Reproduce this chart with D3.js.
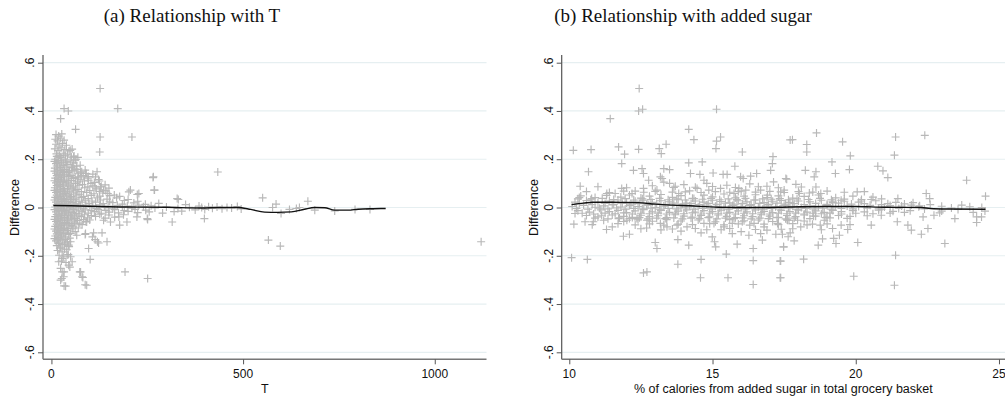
<!DOCTYPE html>
<html>
<head>
<meta charset="utf-8">
<script src="https://cdn.jsdelivr.net/npm/d3@7/dist/d3.min.js"></script>
<style>
  html, body { margin: 0; padding: 0; background: #ffffff; }
  svg { display: block; }
  .tick-label { font-family: Arial, "Liberation Sans", sans-serif; font-size: 12px; fill: #111; }
  .axis-title { font-family: Arial, "Liberation Sans", sans-serif; font-size: 12.5px; fill: #111; }
  .panel-title { font-family: "Liberation Serif", "DejaVu Serif", serif; font-size: 19px; fill: #111; }
</style>
</head>
<body>
<svg id="chart" width="1005" height="398"></svg>
<script>
// ---------- data ----------
const yTicks = [-0.6, -0.4, -0.2, 0, 0.2, 0.4, 0.6];
const yTickLabels = ["-.6", "-.4", "-.2", "0", ".2", ".4", ".6"];
const tTicks = [0, 500, 1000];
const tTickLabels = ["0", "500", "1000"];
const sugarTicks = [10, 15, 20, 25];
const sugarTickLabels = ["10", "15", "20", "25"];

// Panel (a): difference against T
const tOutliers = [
  [127,0.493],[33,0.41],[44,0.40],[173,0.41],[24,0.368],[63,0.324],[127,0.292],[210,0.292],[126,0.23],
  [265,0.124],[269,0.072],[206,0.072],[228,0.058],[328,0.037],[119,0.148],[123,0.116],[114,0.085],
  [136,0.072],[91,0.141],[97,0.113],[66,0.157],[79,0.148],[71,0.127],[49,0.237],[58,0.21],[62,0.196],
  [115,0.127],[128,0.085],[147,0.058],[202,0.065],[224,0.054],[266,0.127],[268,0.072],[331,0.033],[89,0.141],
  [33,-0.267],[27,-0.294],[33,-0.325],[74,-0.267],[82,-0.29],[88,-0.32],[192,-0.267],[251,-0.294],
  [28,-0.267],[32,-0.287],[24,-0.301],[37,-0.326],[76,-0.267],[80,-0.287],[92,-0.322],
  [19,-0.225],[28,-0.211],[41,-0.197],[50,-0.204],[54,-0.225],[45,-0.239],
  [101,-0.215],[97,-0.17],[110,-0.105],[132,-0.105],[114,-0.133],[123,-0.147],[145,-0.142],[107,-0.122],
  [120,-0.142],[89,-0.108],[50,-0.142],[45,-0.156],[66,-0.115],[88,-0.112],
  [178,-0.073],[197,-0.06],[223,-0.039],[251,-0.05],[315,-0.06],[136,-0.053],[154,-0.06],[92,-0.06],
  [176,-0.039],[188,-0.03],[250,-0.046],
  [375,-0.01],[350,0.012],[340,-0.015],[385,0.006],
  [392,0.0],[400,-0.008],[410,0.003],[420,-0.003],[432,0.002],[445,-0.005],[458,0.0],[470,-0.002],
  [485,0.004],[495,-0.006],[399,-0.046],[434,0.147],
  [551,0.04],[586,0.014],[577,0.0],[599,-0.025],[621,-0.008],[639,-0.004],[647,0.0],[669,0.026],
  [687,-0.011],[739,-0.014],[792,-0.008],[831,-0.008],[566,-0.135],[597,-0.16],[1121,-0.142]
];
const tCore = [
  [12,0.302],[19,0.296],[27,0.305],
  [10,0.283],[16,0.276],[23,0.287],[33,0.279],
  [12,0.262],[20,0.255],[29,0.266],[39,0.258],
  [9,0.243],[17,0.236],[25,0.247],[35,0.24],[46,0.234],[54,0.242],
  [13,0.222],[21,0.216],[31,0.225],[42,0.218],[59,0.213],[69,0.208],
  [10,0.2],[18,0.195],[27,0.205],[37,0.198],[49,0.192],[64,0.2],
  [12,0.182],[22,0.176],[32,0.185],[43,0.178],[55,0.172],[75,0.175],
  [9,0.163],[16,0.156],[25,0.165],[35,0.158],[47,0.152],[61,0.16],[88,0.155],
  [12,0.142],[20,0.136],[29,0.145],[40,0.138],[51,0.133],[69,0.14],[83,0.132],[108,0.138],
  [10,0.122],[18,0.116],[26,0.125],[34,0.118],[44,0.113],[57,0.12],[75,0.115],[95,0.122],[125,0.11],
  [12,0.102],[20,0.096],[28,0.105],[38,0.098],[49,0.093],[63,0.1],[81,0.095],[103,0.1],[140,0.094],
  [9,0.082],[16,0.076],[24,0.085],[32,0.078],[42,0.073],[54,0.08],[67,0.075],[87,0.082],[117,0.077],[150,0.08],
  [12,0.062],[20,0.056],[28,0.065],[36,0.058],[46,0.053],[58,0.06],[72,0.055],[92,0.062],[111,0.057],[134,0.06],[164,0.052],
  [10,0.042],[16,0.036],[24,0.045],[32,0.038],[40,0.033],[50,0.04],[62,0.035],[78,0.042],[96,0.037],[120,0.04],[145,0.035],[170,0.04],[200,0.033],
  [12,0.022],[20,0.016],[28,0.025],[36,0.018],[44,0.013],[54,0.02],[66,0.015],[80,0.022],[98,0.017],[115,0.022],[135,0.016],[160,0.02],[185,0.014],[215,0.019],[245,0.013],[280,0.017],
  [10,0.002],[16,-0.004],[24,0.005],[32,-0.002],[40,-0.007],[48,0.0],[58,-0.005],[70,0.002],[84,-0.003],[100,0.003],[118,-0.004],[138,0.001],[160,-0.005],[185,0.002],[210,-0.003],[240,0.003],[270,-0.002],[300,0.002],[330,-0.004],[360,0.001],
  [12,-0.018],[20,-0.024],[28,-0.015],[36,-0.022],[44,-0.027],[54,-0.02],[66,-0.025],[80,-0.018],[96,-0.023],[112,-0.017],[130,-0.024],[150,-0.019],[175,-0.022],[200,-0.016],[225,-0.021],[255,-0.018],[290,-0.023],[320,-0.017],
  [10,-0.038],[18,-0.044],[26,-0.035],[34,-0.042],[42,-0.047],[52,-0.04],[64,-0.045],[78,-0.038],[94,-0.043],[115,-0.037],[140,-0.044],[165,-0.04],
  [12,-0.058],[20,-0.064],[28,-0.055],[38,-0.062],[48,-0.067],[60,-0.06],[74,-0.065],[90,-0.058],
  [10,-0.078],[18,-0.084],[26,-0.075],[34,-0.082],[44,-0.087],[56,-0.08],[70,-0.085],
  [12,-0.098],[20,-0.104],[28,-0.095],[38,-0.102],[50,-0.107],[62,-0.1],
  [10,-0.118],[18,-0.124],[26,-0.115],[36,-0.122],[48,-0.127],
  [12,-0.138],[20,-0.144],[30,-0.135],[42,-0.142],
  [14,-0.158],[24,-0.164],[34,-0.155],[46,-0.162],
  [16,-0.178],[28,-0.184],[40,-0.175],
  [20,-0.198],[32,-0.204],[44,-0.195],
  [26,-0.222],[38,-0.228],
  [24,-0.252],[48,-0.247]
];
const tCoreFill = [
  [14,0.212],[24,0.207],[36,0.214],[52,0.209],
  [8,0.191],[16,0.186],[26,0.193],[40,0.188],[58,0.185],
  [14,0.172],[22,0.167],[30,0.174],[40,0.168],[52,0.165],[66,0.171],
  [8,0.151],[16,0.147],[24,0.153],[34,0.149],[44,0.145],[56,0.152],[76,0.146],
  [14,0.132],[22,0.127],[32,0.134],[46,0.128],[62,0.125],[78,0.131],[96,0.128],
  [8,0.111],[16,0.107],[24,0.113],[32,0.108],[40,0.105],[52,0.112],[68,0.106],[86,0.11],[112,0.104],
  [14,0.091],[22,0.087],[30,0.093],[44,0.088],[58,0.085],[72,0.092],[95,0.086],[108,0.09],[130,0.088],
  [8,0.071],[16,0.067],[24,0.073],[34,0.068],[48,0.065],[62,0.072],[78,0.066],[100,0.07],[125,0.067],[142,0.069],
  [14,0.051],[22,0.047],[30,0.053],[40,0.048],[52,0.045],[66,0.052],[84,0.046],[104,0.05],[126,0.047],[152,0.049],[178,0.046],
  [8,0.031],[18,0.027],[26,0.033],[34,0.028],[46,0.025],[58,0.032],[72,0.026],[88,0.03],[106,0.027],[128,0.031],[152,0.026],[190,0.029],[225,0.026],
  [14,0.011],[22,0.007],[30,0.013],[40,0.008],[50,0.005],[62,0.012],[76,0.006],[90,0.01],[108,0.007],[126,0.011],[148,0.006],[172,0.009],[198,0.006],[228,0.01],[260,0.007],
  [8,-0.009],[18,-0.013],[26,-0.007],[34,-0.012],[46,-0.015],[58,-0.008],[72,-0.014],[88,-0.01],[104,-0.013],[122,-0.008],[142,-0.012],[165,-0.009],[190,-0.013],[218,-0.008],[246,-0.011],
  [14,-0.029],[22,-0.033],[30,-0.027],[40,-0.032],[50,-0.035],[60,-0.028],[72,-0.034],[86,-0.03],[104,-0.033],[126,-0.028],[150,-0.031],
  [8,-0.049],[16,-0.053],[24,-0.047],[34,-0.052],[44,-0.055],[56,-0.048],[68,-0.054],[84,-0.05],[100,-0.052],
  [14,-0.069],[22,-0.073],[30,-0.067],[40,-0.072],[52,-0.075],[64,-0.068],[80,-0.071],
  [8,-0.089],[16,-0.093],[24,-0.087],[32,-0.092],[42,-0.095],[56,-0.088],
  [14,-0.109],[22,-0.113],[32,-0.107],[44,-0.112],
  [8,-0.129],[16,-0.133],[24,-0.127],[36,-0.132],
  [18,-0.149],[28,-0.153],[38,-0.147],
  [22,-0.169],[34,-0.172]
];
const tSmooth = [
  [5,0.008],[50,0.007],[100,0.005],[150,0.003],[200,0.002],[300,0.001],[390,-0.002],[440,0.0],
  [486,0.0],[520,-0.008],[556,-0.019],[590,-0.02],[626,-0.018],[660,-0.007],[687,0.0],[713,-0.001],
  [739,-0.011],[775,-0.011],[800,-0.007],[840,-0.005],[872,-0.004]
];

// Panel (b): difference against % of calories from added sugar
const sugarScatter = [
  [12.44,0.493],[12.42,0.400],[12.56,0.407],[11.43,0.368],[15.14,0.407],[14.17,0.324],[14.35,0.281],
  [15.14,0.275],[15.28,0.292],[15.12,0.244],[10.14,0.237],[10.76,0.240],[11.72,0.251],[11.93,0.221],
  [12.42,0.241],[13.14,0.244],[13.21,0.223],[13.38,0.262],[16.04,0.230],[17.11,0.211],[17.71,0.280],
  [10.67,0.148],[11.83,0.182],[12.24,0.154],[12.54,0.161],[12.59,0.141],[12.77,0.113],[13.30,0.161],
  [13.50,0.157],[13.18,0.127],[14.17,0.185],[14.64,0.189],[14.23,0.141],[14.56,0.137],[15.02,0.143],
  [14.70,0.113],[15.37,0.137],[15.51,0.137],[15.78,0.171],[15.98,0.127],[16.07,0.120],[16.33,0.130],
  [16.54,0.141],[17.03,0.154],[17.09,0.182],[17.13,0.106],[17.56,0.120],[10.38,0.088],[10.35,0.041],
  [10.78,0.037],[11.31,0.058],[11.60,0.058],[11.83,0.079],[12.19,0.058],[12.59,0.079],[13.06,0.072],
  [13.24,0.120],[13.65,0.083],[13.82,0.058],[14.05,0.065],[14.46,0.079],[14.87,0.072],[15.28,0.079],
  [15.75,0.058],[15.92,0.079],[16.16,0.072],[16.68,0.072],[16.92,0.051],[17.38,0.065],
  [10.20,-0.025],[10.16,-0.069],[10.55,-0.059],[10.84,-0.059],[11.13,-0.032],[11.72,-0.046],
  [12.01,-0.053],[12.36,-0.046],[12.71,-0.053],[13.18,-0.066],[13.41,-0.080],[13.76,-0.073],
  [14.11,-0.080],[14.40,-0.087],[14.70,-0.066],[15.05,-0.066],[15.40,-0.080],[15.69,-0.066],
  [16.04,-0.059],[16.45,-0.066],[16.80,-0.080],[17.27,-0.066],[17.67,-0.053],
  [11.89,-0.119],[12.10,-0.111],[13.00,-0.145],[13.06,-0.170],[13.79,-0.133],[14.17,-0.156],
  [14.99,-0.122],[15.07,-0.142],[15.11,-0.163],[15.48,-0.193],[15.69,-0.108],[15.86,-0.152],
  [16.27,-0.115],[16.42,-0.170],[16.68,-0.108],[16.74,-0.135],[17.21,-0.111],[17.48,-0.163],
  [10.08,-0.208],[10.63,-0.215],[13.79,-0.235],[14.60,-0.215],[14.58,-0.291],[15.54,-0.291],
  [16.42,-0.220],[16.42,-0.319],[17.36,-0.222],[17.36,-0.291],[12.59,-0.271],[12.71,-0.267],
  [18.63,0.309],[17.79,0.281],[18.29,0.261],[18.29,0.230],[19.54,0.272],[21.39,0.292],[22.41,0.299],
  [21.35,0.217],[19.81,0.214],[19.17,0.189],[18.24,0.154],[18.61,0.148],[18.55,0.127],[19.29,0.141],
  [19.78,0.157],[20.77,0.171],[20.95,0.152],[21.12,0.124],[23.87,0.113],[17.59,0.117],[17.91,0.096],
  [18.61,0.085],[20.05,0.065],[17.50,0.072],[18.03,0.058],[18.38,0.060],[18.78,0.058],[21.47,0.037],
  [22.46,0.058],[22.58,0.037],[24.53,0.047],[20.54,0.033],[19.19,0.026],[19.49,0.030],[20.19,0.027],
  [21.12,0.016],[21.94,0.010],[22.23,0.007],[23.34,-0.002],[23.98,0.003],[24.51,-0.015],[24.39,-0.039],
  [24.22,-0.062],[23.46,-0.046],[22.73,-0.032],[22.93,-0.022],[22.35,-0.039],[21.82,-0.073],
  [21.94,-0.094],[21.45,-0.059],[20.54,-0.073],[20.89,-0.032],[19.72,-0.091],[19.49,-0.073],
  [19.43,-0.115],[19.19,-0.087],[19.23,-0.128],[19.31,-0.149],[18.84,-0.130],[18.69,-0.156],
  [18.76,-0.073],[18.49,-0.069],[17.85,-0.138],[17.71,-0.105],[17.64,-0.121],[17.48,-0.163],
  [20.07,-0.145],[22.29,-0.111],[22.52,-0.087],[23.11,-0.149],[21.39,-0.198],[19.93,-0.285],
  [21.35,-0.322],[18.18,-0.214],[17.38,-0.222],[17.38,-0.291],[17.97,-0.053],[17.62,-0.053],
  [18.08,-0.080],[17.44,-0.111],[18.96,-0.042],[18.53,-0.036],[24.22,-0.039],[23.57,-0.008],
  [12.9,0.09],[13.5,0.1],[14.0,0.095],[14.8,0.1],[15.5,0.092],[16.3,0.098],[16.9,0.088],[13.3,0.105],
  [12.3,0.068],[15.9,0.066],[12.7,-0.085],[13.9,-0.098],[15.3,-0.092],[16.0,-0.1],[16.9,-0.094],
  [14.6,-0.105],[17.4,-0.09],[11.5,-0.08],
  [20.8,-0.005],[21.2,0.008],[21.7,-0.02],[22.0,0.02],[22.6,0.012],[23.0,-0.015],[23.7,0.01],[24.1,-0.02],[24.4,0.0]
];
const sugarBand = [
  [10.4,0.048],[10.9,0.041],[11.3,0.05],[11.8,0.043],[12.1,0.052],[12.5,0.039],[12.8,0.047],[13.2,0.054],
  [13.6,0.042],[13.9,0.049],[14.3,0.038],[14.7,0.051],[15.0,0.044],[15.4,0.056],[15.8,0.04],[16.1,0.047],
  [16.5,0.053],[16.9,0.041],[17.3,0.048],[17.8,0.039],[18.2,0.046],[18.7,0.052],[19.3,0.04],[19.9,0.047],[20.6,0.043],
  [10.2,0.022],[10.6,0.029],[11.0,0.02],[11.4,0.027],[11.7,0.031],[12.0,0.019],[12.3,0.026],[12.6,0.03],
  [12.9,0.021],[13.2,0.028],[13.5,0.024],[13.8,0.032],[14.1,0.018],[14.4,0.027],[14.7,0.022],[15.0,0.03],
  [15.3,0.025],[15.6,0.019],[15.9,0.028],[16.2,0.023],[16.5,0.031],[16.8,0.02],[17.1,0.026],[17.4,0.029],
  [17.7,0.021],[18.0,0.027],[18.4,0.024],[18.8,0.03],[19.2,0.02],[19.6,0.026],[20.1,0.022],[20.7,0.028],[21.4,0.021],
  [10.1,0.004],[10.5,0.009],[10.9,0.001],[11.2,0.007],[11.5,0.011],[11.8,0.002],[12.1,0.008],[12.4,0.004],
  [12.7,0.01],[13.0,0.0],[13.3,0.006],[13.6,0.009],[13.9,0.002],[14.2,0.007],[14.5,0.003],[14.8,0.01],
  [15.1,0.005],[15.4,0.0],[15.7,0.008],[16.0,0.004],[16.3,0.009],[16.6,0.001],[16.9,0.006],[17.2,0.003],
  [17.5,0.009],[17.8,0.005],[18.1,0.0],[18.4,0.007],[18.7,0.003],[19.0,0.008],[19.3,0.002],[19.7,0.006],
  [20.1,0.004],[20.5,0.009],[21.0,0.002],[21.6,0.006],[22.2,0.003],[23.0,0.005],
  [10.3,-0.013],[10.7,-0.019],[11.1,-0.01],[11.4,-0.017],[11.7,-0.012],[12.0,-0.021],[12.3,-0.014],[12.6,-0.009],
  [12.9,-0.018],[13.2,-0.012],[13.5,-0.02],[13.8,-0.015],[14.1,-0.01],[14.4,-0.019],[14.7,-0.013],[15.0,-0.017],
  [15.3,-0.011],[15.6,-0.02],[15.9,-0.014],[16.2,-0.018],[16.5,-0.01],[16.8,-0.016],[17.1,-0.021],[17.4,-0.012],
  [17.7,-0.017],[18.0,-0.011],[18.3,-0.019],[18.6,-0.014],[18.9,-0.02],[19.2,-0.012],[19.5,-0.017],[19.9,-0.013],
  [20.3,-0.018],[20.8,-0.011],[21.3,-0.016],[21.9,-0.013],
  [10.6,-0.033],[11.0,-0.039],[11.5,-0.031],[11.9,-0.037],[12.2,-0.041],[12.5,-0.032],[12.8,-0.038],[13.1,-0.034],
  [13.4,-0.042],[13.7,-0.03],[14.0,-0.036],[14.3,-0.04],[14.6,-0.033],[14.9,-0.039],[15.2,-0.031],[15.5,-0.037],
  [15.8,-0.042],[16.1,-0.034],[16.4,-0.038],[16.7,-0.03],[17.0,-0.036],[17.3,-0.041],[17.6,-0.033],[17.9,-0.038],
  [18.2,-0.031],[18.6,-0.036],[19.0,-0.04],[19.4,-0.033],[19.8,-0.037],[20.4,-0.034],
  [11.2,-0.053],[11.9,-0.058],[12.4,-0.051],[12.9,-0.057],[13.4,-0.05],[13.9,-0.056],[14.5,-0.052],[15.1,-0.059],
  [15.6,-0.05],[16.1,-0.055],[16.6,-0.052],[17.1,-0.058],[17.6,-0.051],[18.2,-0.056],[18.9,-0.053]
];
const sugarBandFill = [
  [10.3,0.036],[10.75,0.032],[11.15,0.038],[11.55,0.033],[11.95,0.037],[12.25,0.031],[12.55,0.036],[12.85,0.033],
  [13.15,0.038],[13.45,0.032],[13.75,0.036],[14.05,0.031],[14.35,0.037],[14.65,0.034],[14.95,0.038],[15.25,0.032],
  [15.55,0.036],[15.85,0.033],[16.15,0.038],[16.45,0.031],[16.75,0.036],[17.05,0.034],[17.35,0.037],[17.65,0.032],
  [17.95,0.036],[18.35,0.033],[18.75,0.038],[19.15,0.032],[19.6,0.035],[20.2,0.033],[20.9,0.036],
  [10.35,0.016],[10.8,0.012],[11.25,0.017],[11.55,0.013],[11.85,0.018],[12.15,0.014],[12.45,0.016],[12.75,0.012],
  [13.05,0.017],[13.35,0.013],[13.65,0.018],[13.95,0.014],[14.25,0.016],[14.55,0.012],[14.85,0.017],[15.15,0.013],
  [15.45,0.018],[15.75,0.014],[16.05,0.016],[16.35,0.012],[16.65,0.017],[16.95,0.013],[17.25,0.018],[17.55,0.014],
  [17.85,0.016],[18.2,0.012],[18.6,0.017],[19.0,0.013],[19.4,0.018],[19.85,0.014],[20.3,0.016],[20.9,0.012],[21.7,0.015],
  [10.25,-0.004],[10.65,-0.007],[11.05,-0.003],[11.35,-0.006],[11.65,-0.002],[11.95,-0.007],[12.25,-0.004],[12.55,-0.006],
  [12.85,-0.003],[13.15,-0.007],[13.45,-0.004],[13.75,-0.006],[14.05,-0.002],[14.35,-0.007],[14.65,-0.004],[14.95,-0.006],
  [15.25,-0.003],[15.55,-0.007],[15.85,-0.004],[16.15,-0.006],[16.45,-0.002],[16.75,-0.007],[17.05,-0.004],[17.35,-0.006],
  [17.65,-0.003],[17.95,-0.007],[18.25,-0.004],[18.55,-0.006],[18.85,-0.003],[19.15,-0.007],[19.5,-0.004],[19.9,-0.006],
  [20.4,-0.003],[20.9,-0.007],[21.5,-0.004],[22.4,-0.006],
  [10.45,-0.024],[10.85,-0.027],[11.25,-0.023],[11.6,-0.026],[11.9,-0.022],[12.2,-0.027],[12.5,-0.024],[12.8,-0.026],
  [13.1,-0.023],[13.4,-0.027],[13.7,-0.024],[14.0,-0.026],[14.3,-0.022],[14.6,-0.027],[14.9,-0.024],[15.2,-0.026],
  [15.5,-0.023],[15.8,-0.027],[16.1,-0.024],[16.4,-0.026],[16.7,-0.022],[17.0,-0.027],[17.3,-0.024],[17.6,-0.026],
  [17.9,-0.023],[18.2,-0.027],[18.5,-0.024],[18.8,-0.026],[19.1,-0.023],[19.5,-0.027],[20.0,-0.024],[20.6,-0.026],[21.2,-0.023],
  [10.9,-0.044],[11.35,-0.047],[11.75,-0.043],[12.1,-0.046],[12.45,-0.042],[12.75,-0.047],[13.05,-0.044],[13.35,-0.046],
  [13.65,-0.043],[13.95,-0.047],[14.25,-0.044],[14.55,-0.046],[14.85,-0.042],[15.15,-0.047],[15.45,-0.044],[15.75,-0.046],
  [16.05,-0.043],[16.35,-0.047],[16.65,-0.044],[16.95,-0.046],[17.25,-0.042],[17.55,-0.047],[17.85,-0.044],[18.4,-0.046],
  [19.1,-0.043],[19.7,-0.045],
  [10.6,0.066],[11.4,0.062],[11.9,0.068],[12.6,0.063],[13.0,0.067],[13.6,0.064],[14.2,0.069],[14.6,0.062],[15.1,0.066],
  [15.6,0.063],[16.0,0.068],[16.5,0.064],[17.0,0.067],[17.5,0.062],[18.0,0.066],[18.5,0.064],[19.0,0.068],[19.6,0.063],[20.3,0.066],
  [10.8,-0.071],[11.7,-0.067],[12.3,-0.072],[12.8,-0.068],[13.3,-0.073],[13.8,-0.069],[14.3,-0.071],[14.9,-0.067],[15.4,-0.072],
  [15.9,-0.068],[16.3,-0.073],[16.8,-0.069],[17.3,-0.071],[17.8,-0.067],[18.3,-0.072],[19.0,-0.068],[19.8,-0.071],
  [11.0,0.086],[12.0,0.082],[13.7,0.088],[14.4,0.084],[15.0,0.087],[15.8,0.083],[16.6,0.086],[17.3,0.082],[18.1,0.085],
  [11.3,-0.091],[12.5,-0.088],[13.2,-0.093],[13.6,-0.089],[14.8,-0.092],[15.6,-0.087],[16.5,-0.091],[17.8,-0.088],[18.8,-0.092]
];
const sugarSmooth = [
  [10.08,0.012],[10.5,0.018],[10.84,0.022],[11.5,0.022],[12.4,0.02],[13.0,0.014],[13.6,0.01],[14.2,0.007],
  [15.2,0.001],[16.5,0.0],[17.7,0.002],[18.9,0.004],[20.0,0.004],[21.0,0.001],[22.3,0.0],[22.6,-0.004],
  [23.2,-0.006],[24.53,-0.007]
];

// ---------- drawing ----------
const svg = d3.select("#chart");
const markColor = "#b8b8b8";
const gridColor = "#e6eff1";
const axisColor = "#555555";
const crossPath = "M-4,0H4M0,-4V4";

const yScale = d3.scaleLinear().domain([-0.6, 0.6]).range([352.3, 62.7]);
const plotTop = 55, plotBottom = 359.3;

function drawPanel(cfg) {
  const g = svg.append("g");
  const x = cfg.x;
  const [x0, x1] = x.range();

  // horizontal grid lines
  g.selectAll("line.grid").data(yTicks).join("line")
    .attr("x1", x0).attr("x2", x1)
    .attr("y1", d => yScale(d)).attr("y2", d => yScale(d))
    .attr("stroke", gridColor).attr("stroke-width", 1.2);

  // scatter crosses
  g.append("g").selectAll("path").data(cfg.points).join("path")
    .attr("d", crossPath)
    .attr("transform", d => `translate(${x(d[0])},${yScale(d[1])})`)
    .attr("fill", "none").attr("stroke", markColor).attr("stroke-width", 1.15);

  // smoothed fit
  g.append("path").datum(cfg.smooth)
    .attr("d", d3.line().x(d => x(d[0])).y(d => yScale(d[1])).curve(d3.curveMonotoneX))
    .attr("fill", "none").attr("stroke", "#111").attr("stroke-width", 1.4);

  // y axis
  const yAxis = d3.axisLeft(yScale).tickValues(yTicks).tickSize(5).tickFormat(() => "");
  const ya = g.append("g").attr("transform", `translate(${x0},0)`).call(yAxis);
  ya.select(".domain").attr("d", `M0,${plotTop}V${plotBottom}`).attr("stroke", axisColor).attr("stroke-width", 1.2);
  ya.selectAll(".tick line").attr("stroke", axisColor);
  g.selectAll("text.ylab").data(yTicks).join("text")
    .attr("class", "tick-label")
    .attr("text-anchor", "middle")
    .attr("transform", (d) => `translate(${x0 - 9},${yScale(d)}) rotate(-90)`)
    .text((d, i) => yTickLabels[i]);
  g.append("text").attr("class", "axis-title")
    .attr("text-anchor", "middle")
    .attr("transform", `translate(${x0 - 24},${yScale(0)}) rotate(-90)`)
    .text("Difference");

  // x axis
  const xAxis = d3.axisBottom(x).tickValues(cfg.ticks).tickSize(5).tickFormat(() => "");
  const xa = g.append("g").attr("transform", `translate(0,${plotBottom})`).call(xAxis);
  xa.select(".domain").attr("d", `M${x0},0H${x1}`).attr("stroke", "#777").attr("stroke-width", 1.4);
  xa.selectAll(".tick line").attr("stroke", axisColor);
  g.selectAll("text.xlab").data(cfg.ticks).join("text")
    .attr("class", "tick-label")
    .attr("text-anchor", "middle")
    .attr("x", d => x(d)).attr("y", 378)
    .text((d, i) => cfg.tickLabels[i]);
  g.append("text").attr("class", "axis-title")
    .attr("text-anchor", "middle")
    .attr("x", (x0 + x1) / 2).attr("y", 393)
    .text(cfg.xTitle);

  // panel title
  svg.append("text").attr("class", "panel-title")
    .attr("text-anchor", "middle")
    .attr("x", cfg.titleX).attr("y", 22)
    .text(cfg.title);
}

drawPanel({
  x: d3.scaleLinear().domain([-22, 1135]).range([43, 486.5]),
  points: tCore.concat(tCoreFill, tOutliers),
  smooth: tSmooth,
  ticks: tTicks, tickLabels: tTickLabels,
  xTitle: "T",
  title: "(a) Relationship with T",
  titleX: 192
});

drawPanel({
  x: d3.scaleLinear().domain([9.735, 25.21]).range([561.7, 1005]),
  points: sugarBand.concat(sugarBandFill, sugarScatter),
  smooth: sugarSmooth,
  ticks: sugarTicks, tickLabels: sugarTickLabels,
  xTitle: "% of calories from added sugar in total grocery basket",
  title: "(b) Relationship with added sugar",
  titleX: 683
});
</script>
</body>
</html>
